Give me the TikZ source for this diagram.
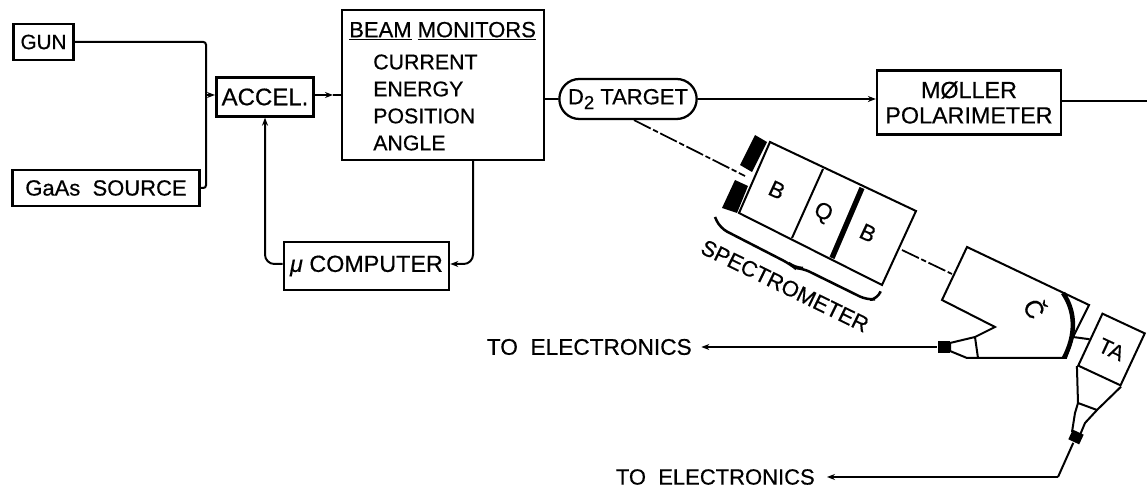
\documentclass[tikz,border=0pt]{standalone}
\usepackage{fontspec}
\setmainfont{Liberation Sans}[RawFeature={embolden=0.5}]
\usetikzlibrary{positioning, arrows.meta, shapes.misc}

\begin{document}
\begin{tikzpicture}[
    x=0.75pt, y=-0.75pt,
    every node/.style={font=\fontsize{15.5}{18}\selectfont, inner sep=0pt},
    box/.style={draw, line width=1.7pt, anchor=center},
    wire/.style={line width=1.5pt},
    arrow/.style={wire, -{Stealth[length=6pt, width=4.5pt]}},
    beamline/.style={line width=1.3pt, dash pattern=on 14pt off 2pt on 4pt off 2pt},
    part/.style={line width=1.5pt, line join=miter},
    lbl/.style={font=\fontsize{17}{20}\selectfont},
    tilted/.style={rotate=-25},
]
\useasboundingbox (0,0) rectangle (1147,491);

% ── Injector ─────────────────────────────────────────────────────────────
\node[box, line width=2.2pt, minimum width=45pt, minimum height=27pt] (gun) at (43.5, 42) {GUN};
\node[box, line width=2pt, minimum width=140pt, minimum height=27pt, font=\fontsize{16.5}{18}\selectfont] (gaas) at (106, 188) {GaAs\ \ SOURCE};
\node[box, line width=2pt, minimum width=73pt, minimum height=29pt, font=\fontsize{18}{20}\selectfont] (accel) at (265, 97) {ACCEL.};
\coordinate (join) at (206, 95);
\draw[wire, rounded corners=2pt] (gun.east) -| (join) |- (gaas.east);
\draw[arrow] (join) -- (accel.west |- join);

% ── Beam monitors ────────────────────────────────────────────────────────
\node[box, minimum width=152pt, minimum height=112pt] (beam) at (443, 85) {};
\node[anchor=west, font=\fontsize{16.5}{18}\selectfont] (beamtitle) at (349, 31) {\underline{BEAM}\ \underline{MONITORS}};
\foreach \i/\item in {0/CURRENT, 1/ENERGY, 2/POSITION, 3/ANGLE} {
    \pgfmathsetmacro{\ypos}{62 + \i * 27}
    \node[anchor=west, font=\fontsize{16}{18}\selectfont] (item\i) at (373, \ypos) {\item};
}
\coordinate (accelmid) at (333, 95);
\draw[arrow] (accel.east |- accelmid) -- (accelmid);
\draw[wire] (accelmid) -- (beam.west |- accelmid);

% ── Computer loop ────────────────────────────────────────────────────────
\node[box, minimum width=124pt, minimum height=36pt, font=\fontsize{17.5}{20}\selectfont] (comp) at (366.5, 266) {\textit{μ} COMPUTER};
\coordinate (compmid) at (457, 264);
\draw[arrow, rounded corners=7pt] (comp.west |- compmid) -| (accel.south);
\draw[wire, rounded corners=7pt] (473, 160) -- (473, 264) -- (compmid);
\draw[arrow] (compmid) -- (comp.east |- compmid);

% ── Target and polarimeter ───────────────────────────────────────────────
\node[box, rounded rectangle, minimum width=103pt, minimum height=30pt, font=\fontsize{16.5}{18}\selectfont] (target) at (628, 99) {D\raisebox{-3.5pt}{\fontsize{14}{14}\selectfont 2} TARGET};
\node[box, align=center, minimum width=138pt, minimum height=48pt, font=\fontsize{17.5}{18}\selectfont] (moller) at (969, 102.5) {M\O{}LLER\\[1pt]POLARIMETER};
\coordinate (outend) at (1147, 101);
\draw[wire] (beam.east |- target.west) -- (target.west);
\draw[arrow] (target.east) -- (moller.west |- target.east);
\draw[wire] (moller.east |- outend) -- (outend);

% ── Spectrometer ─────────────────────────────────────────────────────────
\coordinate (sTL) at (770, 142);
\coordinate (sTR) at (916, 211);
\coordinate (sBR) at (882, 285);
\coordinate (sBL) at (739, 213);
\draw[part] (sTL) -- (sTR) -- (sBR) -- (sBL) -- cycle;
\draw[part] (823, 169) -- (792, 238);
\draw[line width=4pt] (862, 188) -- (832, 258);
\fill (755, 135) -- (767, 142) -- (752, 172) -- (740, 165) -- cycle;
\fill (735, 180) -- (748, 186) -- (737, 213) -- (722, 208) -- cycle;
\node[lbl, tilted] (bendA) at (777, 190) {B};
\node[lbl, tilted] (quad) at (823, 213) {Q};
\node[lbl, tilted] (bendB) at (868, 233) {B};
\draw[part, line width=1.9pt, rounded corners=6pt] (715, 217) -- (720, 228) -- (790, 264) -- (795, 268) -- (802, 268) -- (867, 300) -- (878, 299) -- (880, 293);
\node[font=\fontsize{16.5}{18}\selectfont, rotate=-26] (spectlabel) at (785, 286) {SPECTROMETER};
\coordinate (slit) at (745, 176);
\draw[beamline] (target.south) ++(6, 0) -- (slit);

% ── Cherenkov counter ────────────────────────────────────────────────────
\draw[part] (967, 247) -- (1089, 305) -- (1073, 337) -- (1066, 358) -- (967, 358) -- (950, 351)
    -- (950, 343) -- (975, 337) -- (995, 327) -- (942, 300) -- cycle;
\draw[part] (975, 337) -- (978, 358);
\draw[line width=3.4pt] (1063, 293) .. controls (1076, 312) and (1076, 335) .. (1064, 358);
\node[box, fill=black, draw=none, minimum width=9pt, minimum height=9pt] (capC) at (944, 347) {};
\node[font=\fontsize{19}{20}\selectfont, rotate=-62] (cher) at (1036, 308) {\v{C}};
\node[lbl, anchor=east] (elecA) at (692, 347) {TO\ \ ELECTRONICS};
\draw[arrow, shorten >=7pt] (capC.west) -- (elecA.east);
\draw[beamline] (902, 250) -- (952, 274);

% ── Tagging counter ──────────────────────────────────────────────────────
\node[draw, line width=1.5pt, rotate=-25, minimum width=35pt, minimum height=43pt, font=\fontsize{16}{18}\selectfont] (ta) at (1111.5, 349.5) {TA};
\draw[wire] (1073, 337) -- (ta.west);
\draw[part] (ta.south west) -- (1078, 403) -- (1097, 410) -- (ta.south east);
\draw[part] (1078, 403) -- (1075, 413) -- (1072, 432);
\draw[part] (1097, 410) -- (1085, 423) -- (1080, 435);
\node[box, fill=black, draw=none, rotate=-25, minimum width=9pt, minimum height=8pt] (capT) at (1076, 437) {};
\node[lbl, anchor=east, font=\fontsize{16.5}{18}\selectfont] (elecB) at (815, 477) {TO\ \ ELECTRONICS};
\coordinate (bendT) at (1058, 477);
\draw[wire] (capT.south) -- (bendT);
\draw[arrow, shorten >=9pt] (bendT) -- (elecB.east);

\end{tikzpicture}
\end{document}
